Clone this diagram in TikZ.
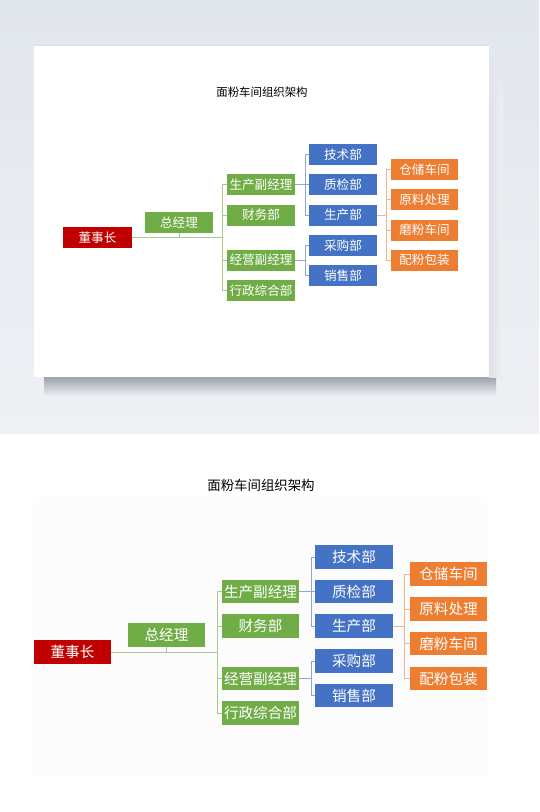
\documentclass[tikz,border=0pt]{standalone}
\usepackage{fontspec}
\newfontfamily\cjk{Noto Sans CJK SC}
\usetikzlibrary{calc,fadings}
\definecolor{bgtop}{HTML}{E2E6ED}
\definecolor{bgbot}{HTML}{EEF0F4}
\definecolor{cred}{HTML}{C00000}
\definecolor{cgreen}{HTML}{70AD47}
\definecolor{cblue}{HTML}{4472C4}
\definecolor{corange}{HTML}{ED7D31}
\definecolor{lgreen}{HTML}{A9C98F}
\definecolor{lblue}{HTML}{8FA7D6}
\definecolor{lorange}{HTML}{F2B48A}
\definecolor{shadowc}{HTML}{9CA2AA}
\tikzfading[name=fadetop, top color=transparent!100, bottom color=transparent!0]
\tikzset{
  box/.style={draw=none, inner sep=0pt, text=white, align=center},
  tbox/.style={box, minimum width=68pt, minimum height=21pt, font=\cjk\fontsize{12.6}{13}\selectfont},
  bbox/.style={box, minimum width=77pt, minimum height=23.5pt, font=\cjk\fontsize{14.6}{15}\selectfont},
  redb/.style={fill=cred}, greenb/.style={fill=cgreen}, blueb/.style={fill=cblue}, orangeb/.style={fill=corange},
  gline/.style={draw=lgreen, line width=0.9pt},
  bline/.style={draw=lblue, line width=0.9pt},
  oline/.style={draw=lorange, line width=0.9pt},
  ttitle/.style={font=\cjk\fontsize{11.4}{12}\selectfont, text=black, inner sep=0pt},
  btitle/.style={font=\cjk\fontsize{13.4}{14}\selectfont, text=black, inner sep=0pt},
}
\begin{document}
\begin{tikzpicture}[x=1pt,y=-1pt]
\useasboundingbox (0,0) rectangle (539,812);
\fill[white] (0,0) rectangle (539,812);
% top mockup background
\shade[top color=bgtop, bottom color=bgbot] (0,0) rectangle (539,433);
% shadow
\shade[top color=shadowc, bottom color=bgbot] (44,377) rectangle (496,396);
\shade[left color=bgbot!80!shadowc, right color=bgbot, path fading=fadetop] (489,60) rectangle (503,110);
\shade[left color=bgbot!80!shadowc, right color=bgbot] (489,110) rectangle (503,377);
\fill[bgtop!92!black, opacity=0.4] (34,45) rectangle (489,46);
% card
\fill[white] (34,46) rectangle (489,377);
% bottom faint panel
\fill[black!1] (33,497) rectangle (487,777);

% ================= TOP DIAGRAM =================
\node[ttitle] (ttitle) at (262,92) {面粉车间组织架构};
\node[tbox,redb,minimum width=69pt] (tdsz) at (97.5,237.5) {董事长};
\node[tbox,greenb] (tzjl) at (179,222.5) {总经理};
\node[tbox,greenb] (tscfjl) at (261,184.5) {生产副经理};
\node[tbox,greenb] (tcwb) at (261,215) {财务部};
\node[tbox,greenb] (tjyfjl) at (261,260) {经营副经理};
\node[tbox,greenb] (txzzhb) at (261,290.5) {行政综合部};
\node[tbox,blueb] (tjsb) at (343,154.5) {技术部};
\node[tbox,blueb] (tzjb) at (343,184.5) {质检部};
\node[tbox,blueb] (tscb) at (343,215) {生产部};
\node[tbox,blueb] (tcgb) at (343,245.5) {采购部};
\node[tbox,blueb] (txsb) at (343,275.5) {销售部};
\node[tbox,orangeb,minimum width=67pt] (tccj) at (424.5,169.5) {仓储车间};
\node[tbox,orangeb,minimum width=67pt] (tylcl) at (424.5,199.5) {原料处理};
\node[tbox,orangeb,minimum width=67pt] (tmfcj) at (424.5,230) {磨粉车间};
\node[tbox,orangeb,minimum width=67pt] (tpfbz) at (424.5,260) {配粉包装};
\coordinate (tgt) at (222,237.5);
\coordinate (tbt) at (305,184.5);
\coordinate (tbt2) at (305,260);
\coordinate (tot) at (386,215);
% green connectors
\draw[gline] (tdsz.east) -- (tgt);
\draw[gline] (tzjl.south) -- (tzjl.south |- tgt);
\draw[gline] (tgt |- tscfjl.west) -- (tgt |- txzzhb.west);
\foreach \n in {tscfjl,tcwb,tjyfjl,txzzhb} \draw[gline] (tgt |- \n.west) -- (\n.west);
% blue connectors
\draw[bline] (tscfjl.east) -- (tbt);
\draw[bline] (tbt |- tjsb.west) -- (tbt |- tscb.west);
\foreach \n in {tjsb,tzjb,tscb} \draw[bline] (tbt |- \n.west) -- (\n.west);
\draw[bline] (tjyfjl.east) -- (tbt2);
\draw[bline] (tbt2 |- tcgb.west) -- (tbt2 |- txsb.west);
\foreach \n in {tcgb,txsb} \draw[bline] (tbt2 |- \n.west) -- (\n.west);
% orange connectors
\draw[oline] (tscb.east) -- (tot);
\draw[oline] (tot |- tccj.west) -- (tot |- tpfbz.west);
\foreach \n in {tccj,tylcl,tmfcj,tpfbz} \draw[oline] (tot |- \n.west) -- (\n.west);

% ================= BOTTOM DIAGRAM =================
\node[btitle] (btitle) at (261,485) {面粉车间组织架构};
\node[bbox,redb,minimum height=24pt] (bdsz) at (72.5,652) {董事长};
\node[bbox,greenb,minimum height=24pt] (bzjl) at (166.5,635) {总经理};
\node[bbox,greenb] (bscfjl) at (260.5,591.5) {生产副经理};
\node[bbox,greenb] (bcwb) at (260.5,626) {财务部};
\node[bbox,greenb] (bjyfjl) at (260.5,678.5) {经营副经理};
\node[bbox,greenb] (bxzzhb) at (260.5,713) {行政综合部};
\node[bbox,blueb,minimum width=78pt] (bjsb) at (354,557) {技术部};
\node[bbox,blueb,minimum width=78pt] (bzjb) at (354,591.5) {质检部};
\node[bbox,blueb,minimum width=78pt] (bscb) at (354,626) {生产部};
\node[bbox,blueb,minimum width=78pt] (bcgb) at (354,661) {采购部};
\node[bbox,blueb,minimum width=78pt] (bxsb) at (354,695.5) {销售部};
\node[bbox,orangeb] (bccj) at (448.5,574) {仓储车间};
\node[bbox,orangeb] (bylcl) at (448.5,609) {原料处理};
\node[bbox,orangeb] (bmfcj) at (448.5,643.5) {磨粉车间};
\node[bbox,orangeb] (bpfbz) at (448.5,678.5) {配粉包装};
\coordinate (bgt) at (217,652);
\coordinate (bbt) at (311,591.5);
\coordinate (bbt2) at (311,678.5);
\coordinate (bot) at (404,626);
% green connectors
\draw[gline] (bdsz.east) -- (bgt);
\draw[gline] (bzjl.south) -- (bzjl.south |- bgt);
\draw[gline] (bgt |- bscfjl.west) -- (bgt |- bxzzhb.west);
\foreach \n in {bscfjl,bcwb,bjyfjl,bxzzhb} \draw[gline] (bgt |- \n.west) -- (\n.west);
% blue connectors
\draw[bline] (bscfjl.east) -- (bbt);
\draw[bline] (bbt |- bjsb.west) -- (bbt |- bscb.west);
\foreach \n in {bjsb,bzjb,bscb} \draw[bline] (bbt |- \n.west) -- (\n.west);
\draw[bline] (bjyfjl.east) -- (bbt2);
\draw[bline] (bbt2 |- bcgb.west) -- (bbt2 |- bxsb.west);
\foreach \n in {bcgb,bxsb} \draw[bline] (bbt2 |- \n.west) -- (\n.west);
% orange connectors
\draw[oline] (bscb.east) -- (bot);
\draw[oline] (bot |- bccj.west) -- (bot |- bpfbz.west);
\foreach \n in {bccj,bylcl,bmfcj,bpfbz} \draw[oline] (bot |- \n.west) -- (\n.west);
\end{tikzpicture}
\end{document}
